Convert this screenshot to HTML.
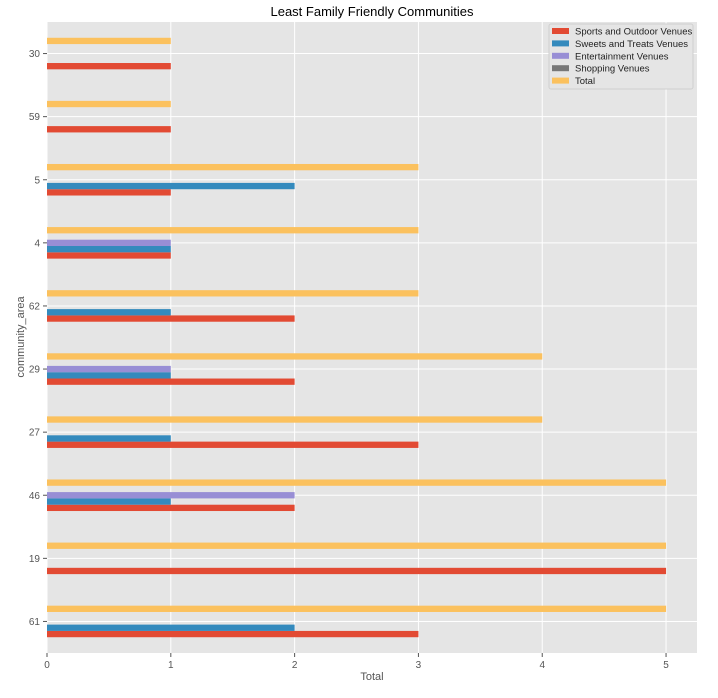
<!DOCTYPE html>
<html><head><meta charset="utf-8"><style>
body{margin:0;background:#fff;font-family:"Liberation Sans",sans-serif}
</style></head><body>
<svg id="chart" width="718" height="693" xmlns="http://www.w3.org/2000/svg" font-family="Liberation Sans, sans-serif">
<rect x="47" y="22" width="650" height="631" fill="#e5e5e5"/>
<g id="grid"></g><g id="bars"></g><g id="axes"></g>
<text x="372" y="16" text-anchor="middle" font-size="13" fill="#000">Least Family Friendly Communities</text>
<text x="372" y="680" text-anchor="middle" font-size="11" fill="#555">Total</text>
<text transform="translate(24,337) rotate(-90)" text-anchor="middle" font-size="11" fill="#555">community_area</text>
<g id="legend"></g>
</svg>
<script>
const categories=["61","19","46","27","29","62","4","5","59","30"];
const seriesNames=["Sports and Outdoor Venues","Sweets and Treats Venues","Entertainment Venues","Shopping Venues","Total"];
const sports=[3,5,2,3,2,2,1,1,1,1];
const sweets=[2,0,1,1,1,1,1,2,0,0];
const entertainment=[0,0,2,0,1,0,1,0,0,0];
const shopping=[0,0,0,0,0,0,0,0,0,0];
const total=[5,5,5,4,4,3,3,3,1,1];
const xTicks=[0,1,2,3,4,5];
const colors=["#e24a33","#348abd","#988ed5","#777777","#fbc15e"];
const series=[sports,sweets,entertainment,shopping,total];
const NS="http://www.w3.org/2000/svg";
const L=47,R=697,T=22,B=653,xMax=5.25;
const xs=v=>L+v*(R-L)/xMax;
const band=(B-T)/categories.length;
const yc=i=>B-(i+0.5)*band;
const bh=band*0.5/5;
function mk(tag,attrs,parent,text){const e=document.createElementNS(NS,tag);for(const k in attrs)e.setAttribute(k,attrs[k]);if(text!==undefined)e.textContent=text;document.getElementById(parent).appendChild(e);return e;}
xTicks.forEach(t=>{
 const g=mk("line",{x1:xs(t),x2:xs(t),y1:T,y2:B,stroke:"#fff","stroke-width":1},"grid");
 
 
 const tk=mk("line",{x1:xs(t),x2:xs(t),y1:B,y2:B+4,stroke:"#555"},"axes");
 
 
 const tx=mk("text",{x:xs(t),y:B+15,"text-anchor":"middle","font-size":"10",fill:"#555"},"axes",String(t));
 
 
});
categories.forEach((c,i)=>{
 const g=mk("line",{x1:L,x2:R,y1:yc(i),y2:yc(i),stroke:"#fff","stroke-width":1},"grid");
 
 
 const tk=mk("line",{x1:L-4,x2:L,y1:yc(i),y2:yc(i),stroke:"#555"},"axes");
 
 
 const tx=mk("text",{x:L-7,y:yc(i)+3.5,"text-anchor":"end","font-size":"10",fill:"#555"},"axes",c);
 
 
 series.forEach((s,k)=>{
  if(!s[i])return;
  const cy=yc(i)+(2-k)*bh;
  const r=mk("rect",{x:xs(0),y:cy-bh/2,width:xs(s[i])-xs(0),height:bh,fill:colors[k]},"bars");
  
  
 });
});
const lb=mk("rect",{x:549,y:24,width:144,height:65,fill:"#e5e5e5",stroke:"#d0d0d0",rx:2},"legend");


seriesNames.forEach((n,k)=>{
 const y=31+k*12.4;
 const sw=mk("rect",{x:552,y:y-3,width:17,height:6,fill:colors[k]},"legend");
 
 
 const t=mk("text",{x:575,y:y+3.5,"font-size":"9.5",fill:"#222"},"legend",n);
 
 
});
</script>
</body></html>
